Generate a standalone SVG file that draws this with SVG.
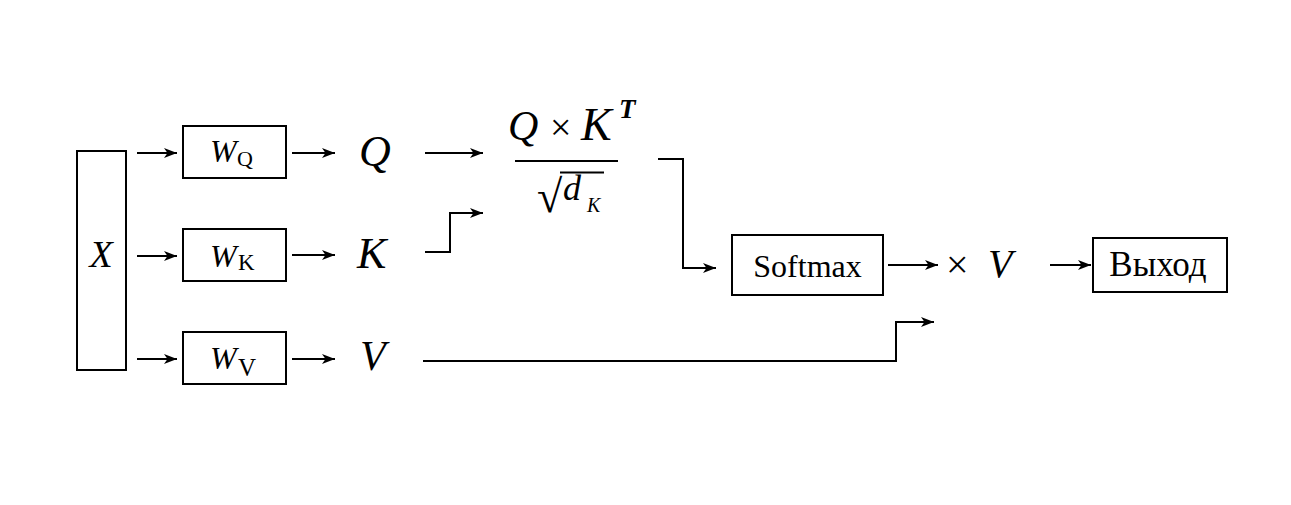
<svg xmlns="http://www.w3.org/2000/svg" width="1291" height="505" viewBox="0 0 1291 505">
<defs>
<marker id="arr" markerWidth="14" markerHeight="12" refX="13" refY="6" orient="auto" markerUnits="userSpaceOnUse">
<path d="M0,1 L13,6 L0,11 L3.5,6 z" fill="#000"/>
</marker>
<style>
.box{fill:#fff;stroke:#000;stroke-width:2}
.ln{fill:none;stroke:#000;stroke-width:2}
.ar{fill:none;stroke:#000;stroke-width:2;marker-end:url(#arr)}
.it{font-family:"Liberation Serif","DejaVu Serif",serif;font-style:italic;fill:#000}
.up{font-family:"Liberation Serif","DejaVu Serif",serif;fill:#000}
</style>
</defs>
<rect width="1291" height="505" fill="#fff"/>

<g id="connectors">
<line class="ar" x1="137" y1="153" x2="177" y2="153"/>
<line class="ar" x1="137" y1="256" x2="177" y2="256"/>
<line class="ar" x1="137" y1="359" x2="177" y2="359"/>
<line class="ar" x1="292" y1="153" x2="335" y2="153"/>
<line class="ar" x1="292" y1="255" x2="335" y2="255"/>
<line class="ar" x1="292" y1="359" x2="335" y2="359"/>
<line class="ar" x1="425" y1="153" x2="483" y2="153"/>
<polyline class="ar" points="425,252 450,252 450,213 483,213"/>
<polyline class="ar" points="423,361 896,361 896,322 934,322"/>
<polyline class="ar" points="658,159 683,159 683,268 716,268"/>
<line class="ar" x1="888" y1="265" x2="938" y2="265"/>
<line class="ar" x1="1050" y1="265" x2="1091" y2="265"/>
</g>

<g id="node-x">
<rect class="box" x="77" y="151" width="49" height="219"/>
<text class="it" x="101" y="267" font-size="38" text-anchor="middle">X</text>
</g>

<g id="node-wq">
<rect class="box" x="183" y="126" width="103" height="52"/>
<text class="it" x="210" y="162" font-size="32">W</text>
<text class="up" x="237" y="166" font-size="22">Q</text>
</g>
<g id="node-wk">
<rect class="box" x="183" y="229" width="103" height="52"/>
<text class="it" x="210" y="267" font-size="32">W</text>
<text class="up" x="238" y="270" font-size="23">K</text>
</g>
<g id="node-wv">
<rect class="box" x="183" y="332" width="103" height="52"/>
<text class="it" x="210" y="369" font-size="32">W</text>
<text class="up" x="238" y="376" font-size="25">V</text>
</g>

<g id="node-q"><text class="it" x="359" y="166" font-size="44">Q</text></g>
<g id="node-k"><text class="it" x="357" y="268" font-size="44">K</text></g>
<g id="node-v"><text class="it" x="360" y="370" font-size="42">V</text></g>

<g id="node-scores">
<text class="it" x="508" y="140" font-size="42">Q</text>
<text class="up" x="550" y="140" font-size="38">×</text>
<text class="it" x="581" y="140" font-size="46">K</text>
<text class="it" x="619" y="118" font-size="27" font-weight="bold">T</text>
<line class="ln" x1="515" y1="161" x2="618" y2="161"/>
<text class="up" x="537" y="212" font-size="46">√</text>
<line class="ln" x1="560" y1="172.5" x2="604" y2="172.5" stroke-width="1.6"/>
<text class="it" x="563" y="200" font-size="36">d</text>
<text class="it" x="587" y="212" font-size="20">K</text>
</g>

<g id="node-softmax">
<rect class="box" x="732" y="235" width="151" height="60"/>
<text class="up" x="807.5" y="277" font-size="32" text-anchor="middle">Softmax</text>
</g>

<g id="node-xv">
<text class="up" x="946" y="278" font-size="40">×</text>
<text class="it" x="988" y="277" font-size="40">V</text>
</g>

<g id="node-out">
<rect class="box" x="1093" y="238" width="134" height="54"/>
<text class="up" x="1158" y="276" font-size="35" text-anchor="middle">Выход</text>
</g>
</svg>
